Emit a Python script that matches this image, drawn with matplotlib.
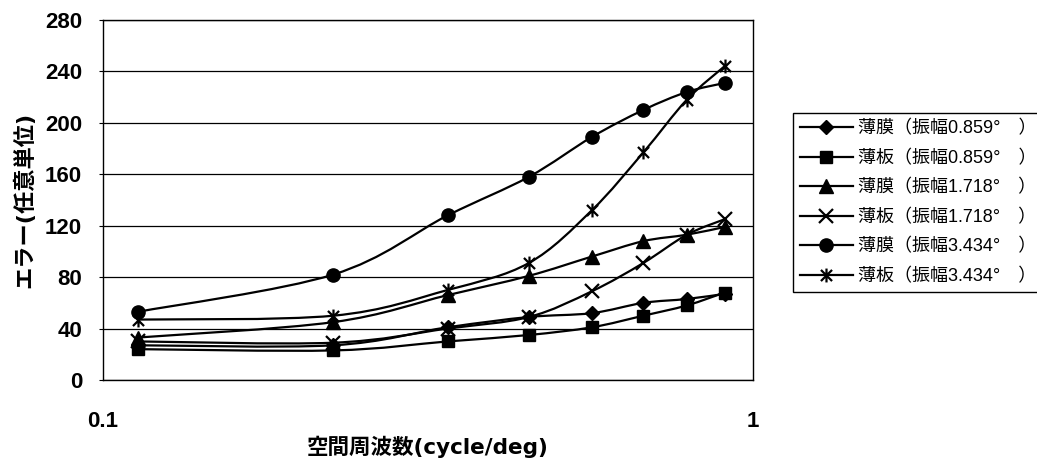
import numpy as np
import matplotlib
matplotlib.use('Agg')
from matplotlib import pyplot as plt
from matplotlib.path import Path
from matplotlib.patches import PathPatch
from matplotlib.ticker import FixedLocator, NullLocator, FixedFormatter

plt.rcParams['font.family'] = ['Liberation Sans', 'Noto Sans CJK JP', 'DejaVu Sans']

# spatial frequency (cycle/deg)
freq = [0.113, 0.226, 0.339, 0.452, 0.565, 0.678, 0.791, 0.904]

# error values (arbitrary units)
film_0859 = [27, 27, 41, 49, 52, 60, 63, 67]
plate_0859 = [24, 23, 30, 35, 41, 50, 58, 68]
film_1718 = [33, 45, 66, 81, 96, 108, 113, 119]
plate_1718 = [30, 29, 40, 49, 69, 91, 113, 125]
film_3434 = [53, 82, 128, 158, 189, 210, 224, 231]
plate_3434 = [47, 50, 70, 91, 132, 177, 218, 244]

labels = ['薄膜（振幅0.859°　）', '薄板（振幅0.859°　）',
          '薄膜（振幅1.718°　）', '薄板（振幅1.718°　）',
          '薄膜（振幅3.434°　）', '薄板（振幅3.434°　）']

y_ticks = [0, 40, 80, 120, 160, 200, 240, 280]

# star marker: X with a vertical bar through it
star = Path([(-1, -1), (1, 1), (-1, 1), (1, -1), (0, -1.25), (0, 1.25)],
            [Path.MOVETO, Path.LINETO, Path.MOVETO, Path.LINETO, Path.MOVETO, Path.LINETO])


def smooth_path(x, y):
    # Catmull-Rom style bezier through the points, built in log-x space
    lx = np.log10(x)
    pts = np.column_stack([lx, y])
    n = len(pts)
    verts = [pts[0]]
    codes = [Path.MOVETO]
    for i in range(n - 1):
        p0 = pts[i - 1] if i > 0 else pts[i]
        p1 = pts[i]
        p2 = pts[i + 1]
        p3 = pts[i + 2] if i + 2 < n else pts[i + 1]
        c1 = p1 + (p2 - p0) / 6.0
        c2 = p2 - (p3 - p1) / 6.0
        verts += [c1, c2, p2]
        codes += [Path.CURVE4] * 3
    verts = np.array(verts)
    verts[:, 0] = 10 ** verts[:, 0]
    return Path(verts, codes)


fig = plt.figure(figsize=(10.37, 4.65), dpi=100)
ax = fig.add_axes([103 / 1037, 1 - 380 / 465, 650 / 1037, 360 / 465])

series = [
    (film_0859, dict(marker='D', markersize=7.5)),
    (plate_0859, dict(marker='s', markersize=8.5)),
    (film_1718, dict(marker='^', markersize=9.5)),
    (plate_1718, dict(marker='x', markersize=10, markeredgewidth=1.6)),
    (film_3434, dict(marker='o', markersize=9.5)),
    (plate_3434, dict(marker=star, markersize=10, markeredgewidth=1.6)),
]

for (vals, mk), lab in zip(series, labels):
    ax.add_patch(PathPatch(smooth_path(freq, vals), facecolor='none',
                           edgecolor='black', linewidth=1.6, zorder=3))
    ax.plot(freq, vals, linestyle='none', color='black',
            markerfacecolor='black', markeredgecolor='black', zorder=4, **mk)

ax.set_xscale('log')
ax.set_xlim(0.1, 1)
ax.set_ylim(0, 280)
ax.xaxis.set_major_locator(FixedLocator([0.1, 1]))
ax.xaxis.set_major_formatter(FixedFormatter(['0.1', '1']))
ax.xaxis.set_minor_locator(NullLocator())
ax.set_yticks(y_ticks)
ax.yaxis.grid(True, color='black', linewidth=0.9)
ax.set_axisbelow(True)

ax.tick_params(axis='y', direction='out', length=3, width=0.8, pad=12, labelsize=16)
ax.tick_params(axis='x', length=0, pad=22, labelsize=16)
for t in ax.get_xticklabels() + ax.get_yticklabels():
    t.set_fontweight('bold')
for s in ax.spines.values():
    s.set_linewidth(1.0)

lab_font = ['DejaVu Sans', 'Noto Sans CJK JP']
ax.set_ylabel('エラー(任意単位)', fontsize=16, fontweight='bold', labelpad=7,
              family=lab_font)
ax.set_xlabel('空間周波数(cycle/deg)', fontsize=15.5, fontweight='bold', labelpad=3,
              family=lab_font)

# legend handles: line through marker
leg_handles = []
for vals, mk in series:
    lh, = ax.plot([], [], linestyle='-', color='black', linewidth=1.6,
                  markerfacecolor='black', markeredgecolor='black', **mk)
    leg_handles.append(lh)

leg = fig.legend(leg_handles, labels, loc='upper left',
                 bbox_to_anchor=(793 / 1037, 1 - 113 / 465),
                 fontsize=13, handlelength=2.9, handletextpad=0.28,
                 labelspacing=0.68, borderpad=0.4, fancybox=False,
                 edgecolor='black', framealpha=1, borderaxespad=0)
leg.get_frame().set_linewidth(1.0)

fig.savefig('out.png', dpi=100, facecolor='white')
